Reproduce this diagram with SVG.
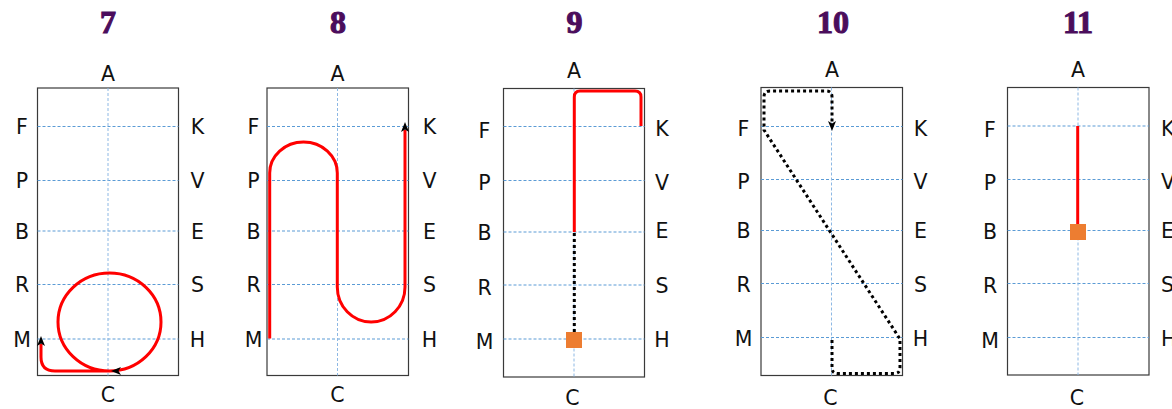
<svg xmlns="http://www.w3.org/2000/svg" width="1172" height="409" viewBox="0 0 1172 409">
  <style>
    .frame { fill: #ffffff; stroke: #3a3a3a; stroke-width: 1.2; }
    .hgrid { stroke: #5b9bd5; stroke-width: 1; stroke-dasharray: 3 2; fill: none; }
    .vgrid { stroke: #8db8e4; stroke-width: 1; stroke-dasharray: 3 2; fill: none; }
    .lbl { font-family: "DejaVu Sans", Verdana, sans-serif; font-size: 20.5px; fill: #111111; text-anchor: middle; }
    .title { font-family: "Liberation Serif", "DejaVu Serif", serif; font-weight: bold; font-size: 32px; fill: #4b0d5c; stroke: #4b0d5c; stroke-width: 1.1; text-anchor: middle; }
    .route { fill: none; stroke: #ff0000; stroke-width: 3; stroke-linejoin: round; }
    .dots { fill: none; stroke: #000000; stroke-width: 3; stroke-dasharray: 3 3; }
    .spot { fill: #ed7d31; }
  </style>
  <defs>
    <marker id="arrow" markerUnits="userSpaceOnUse" markerWidth="12" markerHeight="10" refX="2" refY="0" viewBox="0 -5 12 10" orient="auto" overflow="visible">
      <path d="M0,-4 L10,0 L0,4 L2.5,0 z" fill="#000000"/>
    </marker>
  </defs>

  <!-- arena 7 -->
  <g id="arena7">
    <text class="title" x="108" y="33">7</text>
    <rect class="frame" x="37.5" y="88" width="141" height="287.5"/>
    <path class="hgrid" d="M37.5 126.5H178.5M37.5 180.5H178.5M37.5 231H178.5M37.5 284.5H178.5M37.5 339H178.5"/>
    <path class="vgrid" d="M108 88V375.5"/>
    <text class="lbl" x="108" y="81">A</text>
    <text class="lbl" x="108" y="402">C</text>
    <text class="lbl" x="22" y="134">F</text>
    <text class="lbl" x="22" y="188">P</text>
    <text class="lbl" x="22" y="238.5">B</text>
    <text class="lbl" x="22" y="292">R</text>
    <text class="lbl" x="22" y="346.5">M</text>
    <text class="lbl" x="197.5" y="134">K</text>
    <text class="lbl" x="197.5" y="188">V</text>
    <text class="lbl" x="197.5" y="238.5">E</text>
    <text class="lbl" x="197.5" y="292">S</text>
    <text class="lbl" x="197.5" y="346.5">H</text>
  </g>

  <!-- arena 8 -->
  <g id="arena8">
    <text class="title" x="338" y="33">8</text>
    <rect class="frame" x="267" y="88" width="141.5" height="287.5"/>
    <path class="hgrid" d="M267 126.5H408.5M267 180.5H408.5M267 231H408.5M267 284.5H408.5M267 339H408.5"/>
    <path class="vgrid" d="M337.5 88V375.5"/>
    <text class="lbl" x="337.5" y="81">A</text>
    <text class="lbl" x="337.5" y="402">C</text>
    <text class="lbl" x="253.5" y="134">F</text>
    <text class="lbl" x="253.5" y="188">P</text>
    <text class="lbl" x="253.5" y="238.5">B</text>
    <text class="lbl" x="253.5" y="292">R</text>
    <text class="lbl" x="253.5" y="346.5">M</text>
    <text class="lbl" x="429.5" y="134">K</text>
    <text class="lbl" x="429.5" y="188">V</text>
    <text class="lbl" x="429.5" y="238.5">E</text>
    <text class="lbl" x="429.5" y="292">S</text>
    <text class="lbl" x="429.5" y="346.5">H</text>
  </g>

  <!-- arena 9 -->
  <g id="arena9">
    <text class="title" x="574.5" y="33">9</text>
    <rect class="frame" x="503.5" y="88.5" width="141" height="288.5"/>
    <path class="hgrid" d="M503.5 126.5H644.5M503.5 180.5H644.5M503.5 232H644.5M503.5 285H644.5M503.5 339H644.5"/>
    <path class="vgrid" d="M574 88.5V377"/>
    <text class="lbl" x="574" y="78">A</text>
    <text class="lbl" x="572.5" y="405">C</text>
    <text class="lbl" x="484.5" y="138">F</text>
    <text class="lbl" x="484.5" y="190">P</text>
    <text class="lbl" x="484.5" y="240">B</text>
    <text class="lbl" x="484.5" y="295">R</text>
    <text class="lbl" x="484.5" y="349">M</text>
    <text class="lbl" x="662" y="136">K</text>
    <text class="lbl" x="662" y="190">V</text>
    <text class="lbl" x="662" y="238">E</text>
    <text class="lbl" x="662" y="293">S</text>
    <text class="lbl" x="662" y="347">H</text>
  </g>

  <!-- arena 10 -->
  <g id="arena10">
    <text class="title" x="833" y="33">10</text>
    <rect class="frame" x="761" y="87.5" width="141.5" height="288"/>
    <path class="hgrid" d="M761 126.5H902.5M761 179.5H902.5M761 230.5H902.5M761 283.5H902.5M761 337.5H902.5"/>
    <path class="vgrid" d="M831.5 87.5V375.5"/>
    <text class="lbl" x="832" y="77">A</text>
    <text class="lbl" x="830.5" y="405">C</text>
    <text class="lbl" x="743.5" y="136">F</text>
    <text class="lbl" x="743.5" y="189">P</text>
    <text class="lbl" x="743.5" y="238">B</text>
    <text class="lbl" x="743.5" y="292">R</text>
    <text class="lbl" x="743.5" y="346">M</text>
    <text class="lbl" x="920.5" y="136">K</text>
    <text class="lbl" x="920.5" y="189">V</text>
    <text class="lbl" x="920.5" y="238">E</text>
    <text class="lbl" x="920.5" y="292">S</text>
    <text class="lbl" x="920.5" y="346">H</text>
  </g>

  <!-- arena 11 -->
  <g id="arena11">
    <text class="title" x="1078" y="33">11</text>
    <rect class="frame" x="1007.5" y="87.5" width="141.5" height="287.5"/>
    <path class="hgrid" d="M1007.5 126H1149M1007.5 179.5H1149M1007.5 230.5H1149M1007.5 283.5H1149M1007.5 337.5H1149"/>
    <path class="vgrid" d="M1078 87.5V375"/>
    <text class="lbl" x="1078" y="77">A</text>
    <text class="lbl" x="1077" y="405">C</text>
    <text class="lbl" x="990" y="137">F</text>
    <text class="lbl" x="990" y="190">P</text>
    <text class="lbl" x="990" y="239">B</text>
    <text class="lbl" x="990" y="293">R</text>
    <text class="lbl" x="990" y="348">M</text>
    <text class="lbl" x="1161" y="136" style="text-anchor:start">K</text>
    <text class="lbl" x="1161" y="189" style="text-anchor:start">V</text>
    <text class="lbl" x="1161" y="238" style="text-anchor:start">E</text>
    <text class="lbl" x="1161" y="292" style="text-anchor:start">S</text>
    <text class="lbl" x="1161" y="346" style="text-anchor:start">H</text>
  </g>

  <!-- routes -->
  <g id="connectors">
    <!-- 7: full circle from C, then along the short side to M -->
    <path class="route" marker-end="url(#arrow)" d="M109.5 371 A51.5 49 0 0 1 109.5 273 A51.5 49 0 0 1 109.5 371 L55 371 Q41 371 41 357 L41 344"/>
    <polygon points="111,371 121,367 118.5,371 121,375" fill="#000000"/>
    <!-- 8: serpentine from M to K -->
    <path class="route" marker-end="url(#arrow)" d="M269.7 338.5 L269.7 173 A33.8 31 0 0 1 337.3 173 L337.3 287 A33.8 35 0 0 0 405 287 L405 130"/>
    <!-- 9: K over A down the centre line to B, then dots to the halt -->
    <path class="route" d="M641 126 L641 97 Q641 91 635 91 L580 91 Q574.3 91 574.3 97 L574.3 232"/>
    <path class="dots" d="M574.3 233 L574.3 332"/>
    <rect class="spot" x="566" y="332" width="16" height="16"/>
    <!-- 10: dotted change of rein -->
    <path class="dots" marker-end="url(#arrow)" d="M832 340 L832 368 Q832 373.5 838 373.5 L894 373.5 Q900 373.5 900 367.5 L900 339 L764 130 L764 97 Q764 91 770 91 L826 91 Q832 91 832 97 L832 123"/>
    <!-- 11: F line down to B -->
    <path class="route" d="M1077.7 126 L1077.7 230"/>
    <rect class="spot" x="1070" y="224" width="16" height="16"/>
  </g>
</svg>
